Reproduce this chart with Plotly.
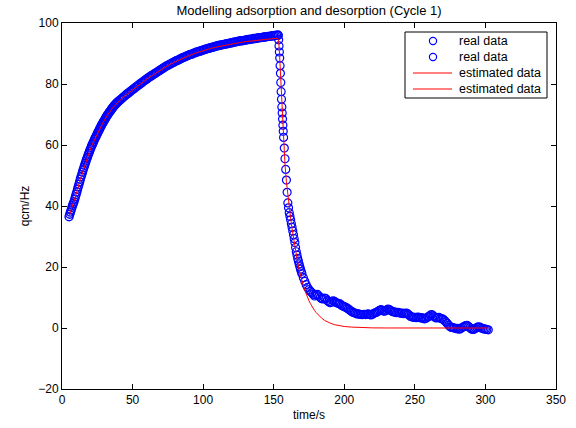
import plotly.graph_objects as go

# ---------------- data ----------------
# Real data, adsorption (fine sampling from t=5 s, 0.5 s steps up to 40 s)
ads_t0_fine = 5.0
ads_real_fine = [
    36.5, 37.3, 38.0, 38.7, 39.5, 40.2, 40.8, 41.4, 42.2, 43.0,
    43.8, 44.6, 45.5, 46.3, 47.1, 47.9, 48.8, 49.6, 50.3, 51.1,
    51.9, 52.6, 53.3, 54.0, 54.7, 55.4, 56.0, 56.7, 57.3, 57.9,
    58.5, 59.1, 59.7, 60.2, 60.7, 61.2, 61.8, 62.3, 62.7, 63.2,
    63.7, 64.2, 64.6, 65.1, 65.6, 66.0, 66.5, 66.9, 67.3, 67.7,
    68.1, 68.5, 68.9, 69.3, 69.7, 70.0, 70.4, 70.7, 71.0, 71.3,
    71.7, 72.0, 72.3, 72.6, 72.9, 73.1, 73.4, 73.6, 73.9, 74.1,
    74.3,
]
# Real data, adsorption (1 s steps from t=41 s)
ads_t0_coarse = 41.0
ads_real_coarse = [
    74.7, 75.1, 75.5, 75.9, 76.3, 76.7, 77.0, 77.4, 77.8, 78.1,
    78.5, 78.9, 79.2, 79.6, 79.9, 80.3, 80.6, 81.0, 81.3, 81.6,
    82.0, 82.3, 82.6, 82.9, 83.2, 83.5, 83.8, 84.1, 84.4, 84.7,
    85.0, 85.3, 85.6, 85.9, 86.1, 86.4, 86.6, 86.9, 87.1, 87.4,
    87.6, 87.8, 88.0, 88.3, 88.5, 88.7, 88.9, 89.1, 89.3, 89.5,
    89.7, 89.8, 90.0, 90.2, 90.4, 90.5, 90.7, 90.8, 91.0, 91.1,
    91.3, 91.4, 91.6, 91.7, 91.8, 92.0, 92.1, 92.2, 92.4, 92.5,
    92.6, 92.7, 92.8, 92.9, 93.0, 93.1, 93.2, 93.3, 93.4, 93.5,
    93.6, 93.7, 93.8, 93.9, 94.0, 94.1, 94.2, 94.2, 94.3, 94.4,
    94.5, 94.6, 94.6, 94.7, 94.8, 94.9, 94.9, 95.0, 95.1, 95.2,
    95.2, 95.3, 95.4, 95.4, 95.5, 95.6, 95.6, 95.7, 95.8, 95.8,
    95.9, 96.0, 96.0,
]

# Real data, desorption: steep drop
des_drop_t = [153.25, 153.5, 153.75, 154.0, 154.25, 154.5, 154.75, 155.0,
              155.25, 155.5, 155.75, 156.0, 156.25, 156.5, 156.75, 157.0,
              157.5, 158.0, 158.5, 159.0, 159.5, 160.0, 160.5, 161.0,
              161.5, 162.0, 162.5, 163.0, 163.5, 164.0, 164.5, 165.0,
              165.5, 166.0, 166.5, 167.0, 167.5, 168.0, 168.5, 169.0,
              169.5]
des_drop_v = [96.0, 94.5, 92.5, 90.5, 88.5, 86.0, 83.5, 80.5,
              77.5, 75.0, 72.5, 70.5, 68.5, 66.5, 64.5, 62.5,
              59.0, 55.5, 52.0, 48.5, 44.5, 41.0, 39.4, 37.8,
              36.6, 35.5, 34.2, 33.0, 31.8, 30.6, 29.3, 28.0,
              26.4, 25.0, 23.9, 22.8, 21.9, 21.0, 20.1, 19.3,
              18.5]
# Real data, desorption tail (1 s steps from t=170 s)
des_tail_t0 = 170.0
des_tail_v = [
    17.8, 16.5, 15.3, 14.2, 13.3, 12.6, 12.0, 11.6, 11.0, 10.5,
    10.8, 11.0, 10.5, 10.0, 9.6, 9.5, 9.8, 9.6, 9.0, 8.6,
    8.3, 8.5, 8.9, 8.7, 8.4, 8.2, 8.0, 7.9, 7.5, 7.2,
    7.0, 6.8, 6.5, 6.2, 5.8, 5.5, 5.2, 5.0, 4.8, 4.6,
    4.6, 4.5, 4.4, 4.4, 4.5, 4.4, 4.5, 4.6, 4.4, 4.3,
    4.5, 4.8, 5.0, 5.2, 5.5, 5.8, 6.0, 5.8, 5.5, 5.6,
    5.9, 6.2, 6.0, 5.7, 5.4, 5.3, 5.2, 5.0, 5.1, 5.0,
    4.8, 4.9, 4.7, 4.8, 4.9, 4.6, 4.2, 3.8, 3.6, 3.5,
    3.5, 3.4, 3.6, 3.5, 3.3, 3.4, 3.1, 3.0, 3.2, 3.6,
    3.8, 4.2, 4.4, 4.0, 3.6, 3.3, 3.4, 3.5, 3.2, 3.0,
    2.9, 2.5, 2.0, 1.5, 0.9, 0.4, 0.2, 0.1, 0.0, -0.2,
    -0.1, -0.4, -0.3, 0.0, 0.3, 0.5, 0.8, 0.9, 0.5, 0.1,
    -0.3, -0.5, -0.4, -0.1, 0.2, 0.4, 0.3, 0.0, -0.2, -0.3,
    -0.4, -0.5, -0.6,
]

# Estimated (model) data
est_ads_t = [5, 7, 9, 11, 13, 15, 17, 19, 21, 23, 25, 27, 29, 31, 33, 35, 37,
             40, 43, 46, 49, 52, 55, 58, 61, 64, 67, 70, 73, 76, 80, 85, 90,
             95, 100, 105, 110, 115, 120, 125, 130, 135, 140, 145, 150, 153]
est_ads_v = [36.6, 39.4, 42.1, 45.4, 48.7, 51.8, 54.6, 57.2, 59.7, 61.7, 63.6,
             65.5, 67.3, 68.9, 70.4, 71.7, 72.8, 74.2, 75.5, 76.6, 77.7, 78.8,
             79.8, 80.9, 81.9, 82.8, 83.7, 84.6, 85.5, 86.3, 87.2, 88.3, 89.3,
             90.2, 91.0, 91.6, 92.2, 92.7, 93.1, 93.5, 93.9, 94.2, 94.5, 94.7,
             94.9, 95.0]
est_des_t = [153, 153.5, 154, 154.5, 155, 155.5, 156, 156.5, 157, 158, 159, 160,
             161, 162, 163, 164, 165, 166, 167, 168, 169, 170, 171, 172, 173,
             174, 175, 176, 177, 178, 179, 180, 182, 184, 186, 188, 190, 193,
             196, 200, 205, 210, 215, 220, 230, 240, 260, 280, 302]
est_des_v = [95.0, 94.0, 91.0, 86.0, 80.0, 74.0, 68.5, 64.0, 60.0, 53.5, 48.0,
             43.5, 39.5, 36.0, 32.5, 29.5, 26.5, 24.0, 21.5, 19.2, 17.2, 15.4,
             13.8, 12.4, 11.1, 10.0, 8.9, 8.0, 7.1, 6.4, 5.7, 5.1, 4.0, 3.2,
             2.5, 2.0, 1.6, 1.1, 0.8, 0.5, 0.3, 0.15, 0.08, 0.04, 0.01, 0.0,
             0.0, 0.0, 0.0]

x_ticks = [0, 50, 100, 150, 200, 250, 300, 350]
y_ticks = [-20, 0, 20, 40, 60, 80, 100]
legend_labels = ["real data", "real data", "estimated data", "estimated data"]

# ---------------- assemble series ----------------
ads_t = [ads_t0_fine + 0.5 * i for i in range(len(ads_real_fine))] + \
        [ads_t0_coarse + i for i in range(len(ads_real_coarse))]
ads_v = ads_real_fine + ads_real_coarse
des_t = des_drop_t + [des_tail_t0 + i for i in range(len(des_tail_v))]
des_v = des_drop_v + des_tail_v

FONT = "Liberation Sans, Arial, Helvetica, sans-serif"
BLUE = "#0000ff"
RED = "#ff0000"
W, H = 576, 428
ML, MR, MT, MB = 62, 20, 23, 39
PW, PH = W - ML - MR, H - MT - MB


def marker(width):
    return dict(symbol="circle-open", size=8, color=BLUE,
                line=dict(width=width, color=BLUE))


fig = go.Figure()
fig.add_trace(go.Scatter(x=ads_t, y=ads_v, mode="markers", name=legend_labels[0],
                         marker=marker(1.4), showlegend=False))
fig.add_trace(go.Scatter(x=des_t, y=des_v, mode="markers", name=legend_labels[1],
                         marker=marker(1.2), showlegend=False))
fig.add_trace(go.Scatter(x=est_ads_t, y=est_ads_v, mode="lines",
                         name=legend_labels[2], showlegend=False,
                         line=dict(color=RED, width=1)))
fig.add_trace(go.Scatter(x=est_des_t, y=est_des_v, mode="lines",
                         name=legend_labels[3], showlegend=False,
                         line=dict(color=RED, width=1)))

axis_common = dict(showline=True, linecolor="black", linewidth=1,
                   mirror="ticks", ticks="inside", ticklen=5,
                   tickcolor="black", tickwidth=1, showgrid=False,
                   zeroline=False,
                   tickfont=dict(family=FONT, size=12, color="black"))


def px(xpix):
    return (xpix - ML) / PW


def py(ypix):
    return 1 - (ypix - MT) / PH


# ---------- MATLAB-style legend box (pixel layout) ----------
shapes = [dict(type="rect", xref="paper", yref="paper",
               x0=px(405), x1=px(547), y0=py(98), y1=py(32),
               line=dict(color="black", width=1), fillcolor="white",
               layer="above")]
annotations = []
row_y = [41, 57, 73, 89]
for i, lab in enumerate(legend_labels):
    yy = py(row_y[i])
    if i < 2:
        shapes.append(dict(type="circle", xref="paper", yref="paper",
                           xsizemode="pixel", ysizemode="pixel",
                           xanchor=px(433), yanchor=yy,
                           x0=-3.6, x1=3.6, y0=-3.6, y1=3.6,
                           line=dict(color=BLUE, width=1.2), layer="above"))
    else:
        shapes.append(dict(type="line", xref="paper", yref="paper",
                           x0=px(413), x1=px(452), y0=yy, y1=yy,
                           line=dict(color=RED, width=1), layer="above"))
    annotations.append(dict(text=lab, xref="paper", yref="paper",
                            x=px(457), y=yy, xanchor="left", yanchor="middle",
                            showarrow=False,
                            font=dict(family=FONT, size=12.5, color="black")))

fig.update_layout(
    width=W, height=H,
    margin=dict(l=ML, r=MR, t=MT, b=MB),
    paper_bgcolor="white", plot_bgcolor="white",
    title=dict(text="Modelling adsorption and desorption (Cycle 1)",
               x=0.5, xanchor="center", xref="paper",
               y=1 - 10 / H, yref="container", yanchor="middle",
               font=dict(family=FONT, size=13, color="black")),
    xaxis=dict(range=[0, 350], tickvals=x_ticks,
               title=dict(text="time/s", standoff=4,
                          font=dict(family=FONT, size=12, color="black")),
               automargin=False, **axis_common),
    yaxis=dict(range=[-20, 100], tickvals=y_ticks,
               title=dict(text="qcm/Hz", standoff=6,
                          font=dict(family=FONT, size=12, color="black")),
               automargin=False, **axis_common),
    shapes=shapes,
    annotations=annotations,
    showlegend=False,
)

fig.write_html("out.html",
               config={"displayModeBar": False},
               post_script="document.body.style.margin='0';"
                           "document.body.style.overflow='hidden';")
